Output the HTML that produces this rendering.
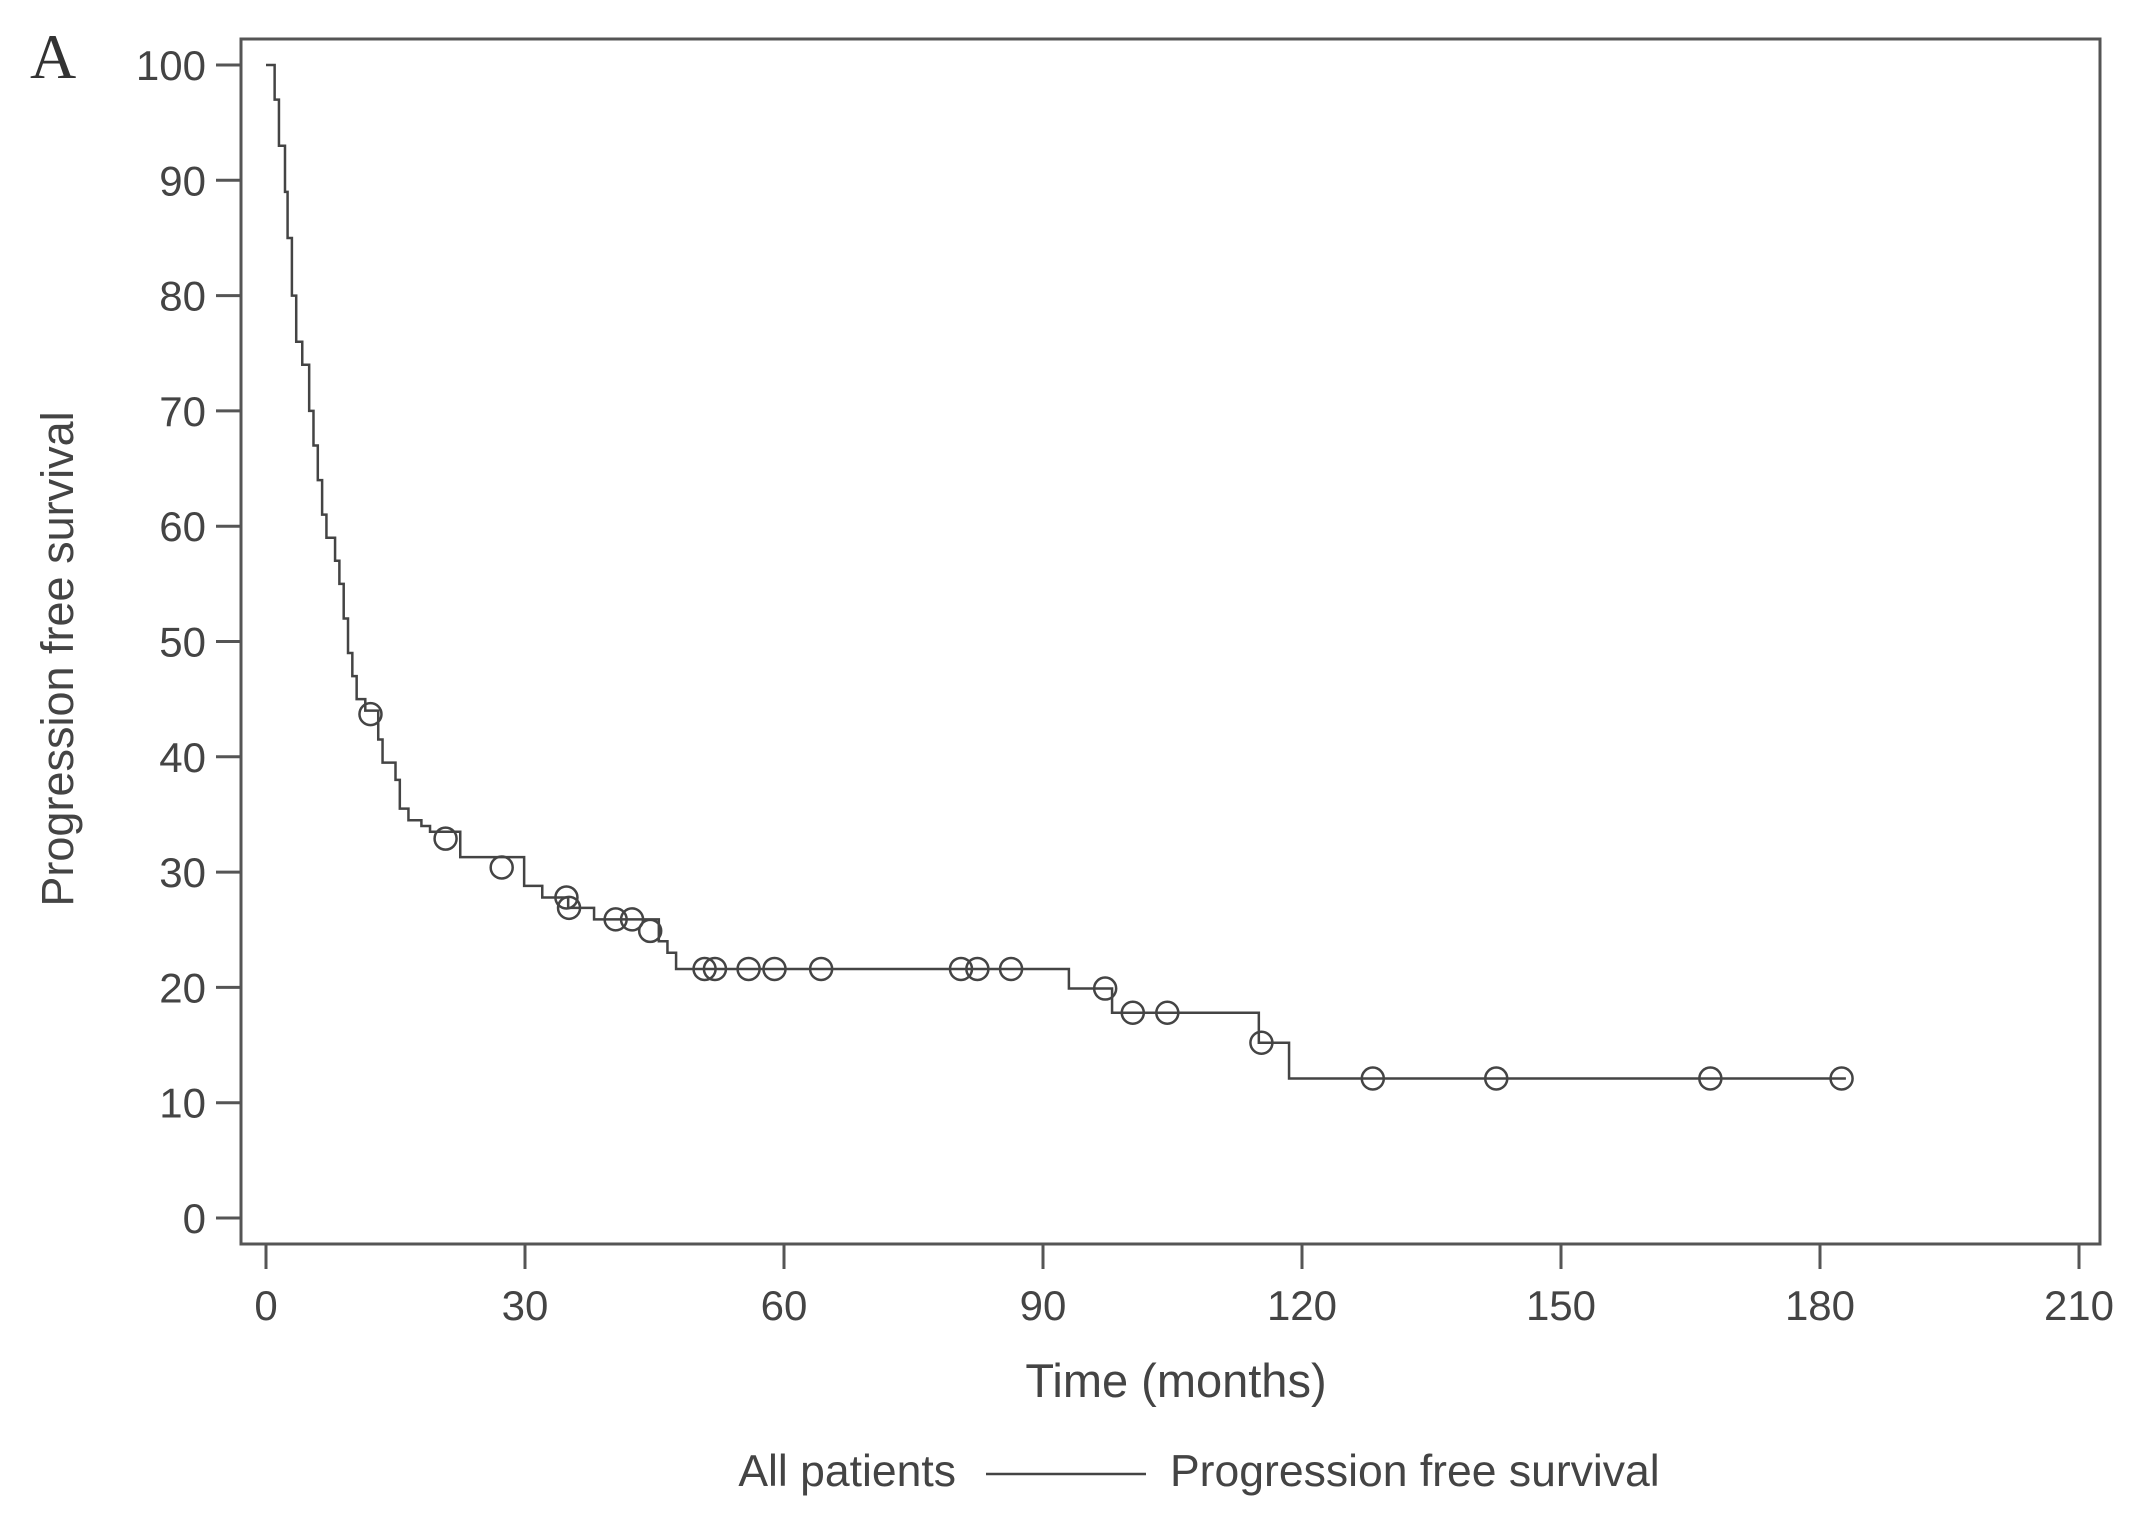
<!DOCTYPE html>
<html><head><meta charset="utf-8"><style>
html,body{margin:0;padding:0;background:#fff;}
svg{display:block;}
text{font-family:"Liberation Sans",sans-serif;fill:#444;}
</style></head><body>
<svg id="chart" width="2150" height="1531" viewBox="0 0 2150 1531" xmlns="http://www.w3.org/2000/svg">
<text x="30" y="78" style="font-family:'Liberation Serif',serif;font-size:64px;fill:#333">A</text>
<rect x="241" y="39" width="1859" height="1205" fill="none" stroke="#555" stroke-width="3"/>
<g id="axes"></g>
<g id="series"></g>
<text x="1176" y="1397" text-anchor="middle" font-size="47">Time (months)</text>
<text transform="translate(73,659) rotate(-90)" text-anchor="middle" font-size="45">Progression free survival</text>
<g>
<text x="956" y="1486" text-anchor="end" font-size="44.5">All patients</text>
<line x1="986" y1="1474" x2="1146" y2="1474" stroke="#444" stroke-width="2.5"/>
<text x="1170" y="1486" font-size="44.5">Progression free survival</text>
</g>
</svg>
<script>
const xTicks=[0,30,60,90,120,150,180,210];
const yTicks=[0,10,20,30,40,50,60,70,80,90,100];
const stepTimes=[0,1,1.5,2.2,2.5,3,3.5,4.2,5,5.5,6,6.5,7,8,8.5,9,9.5,10,10.5,11.5,13,13.5,15,15.5,16.5,18,19,22.5,29.9,32,35,38,43.4,45.5,46.5,47.5,93,98,115,118.5];
const stepSurv=[100,97,93,89,85,80,76,74,70,67,64,61,59,57,55,52,49,47,45,44,41.5,39.5,38,35.5,34.5,34,33.5,31.3,28.8,27.8,26.9,25.9,25.9,24,23,21.6,19.9,17.8,15.2,12.1];
const endTime=183;
const censorTimes=[12.1,20.8,27.3,34.8,35.1,40.5,42.4,44.5,50.8,52,55.9,58.9,64.3,80.5,82.4,86.3,97.2,100.4,104.4,115.3,128.2,142.5,167.3,182.5];
const censorSurv=[43.7,32.9,30.4,27.8,26.9,25.9,25.9,24.9,21.6,21.6,21.6,21.6,21.6,21.6,21.6,21.6,19.9,17.8,17.8,15.2,12.1,12.1,12.1,12.1];

const X=t=>266+t*(2079-266)/210;
const Y=s=>1218-s*(1218-65)/100;
const NS="http://www.w3.org/2000/svg";
const axes=document.getElementById('axes'),series=document.getElementById('series');
function mk(tag,attrs,parent){const e=document.createElementNS(NS,tag);for(const k in attrs)e.setAttribute(k,attrs[k]);parent.appendChild(e);return e;}
xTicks.forEach(v=>{
  const l=mk('line',{x1:X(v),x2:X(v),y1:1244,y2:1269,stroke:'#555','stroke-width':3},axes);
  
  
  const t=mk('text',{x:X(v),y:1320,'text-anchor':'middle','font-size':42},axes);
  
  
  t.textContent=v;
});
yTicks.forEach(v=>{
  const l=mk('line',{x1:216,x2:241,y1:Y(v),y2:Y(v),stroke:'#555','stroke-width':3},axes);
  
  
  const t=mk('text',{x:206,y:Y(v)+15,'text-anchor':'end','font-size':42},axes);
  
  
  t.textContent=v;
});
let d='M'+X(stepTimes[0])+' '+Y(stepSurv[0]);
for(let i=1;i<stepTimes.length;i++){d+=' H'+X(stepTimes[i])+' V'+Y(stepSurv[i]);}
d+=' H'+X(endTime);
const p=mk('path',{d:d,fill:'none',stroke:'#444','stroke-width':2.5},series);


censorTimes.forEach((t,i)=>{
  const c=mk('circle',{cx:X(t),cy:Y(censorSurv[i]),r:11,fill:'none',stroke:'#444','stroke-width':2.5},series);
  
  
});
</script>
</body></html>
